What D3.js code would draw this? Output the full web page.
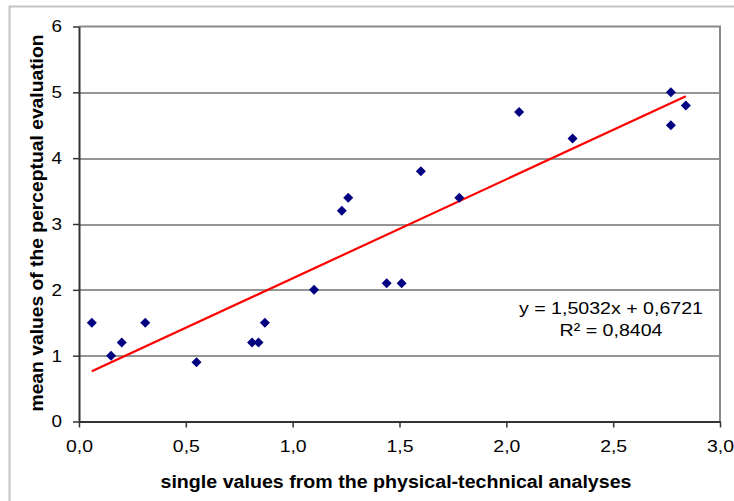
<!DOCTYPE html>
<html>
<head>
<meta charset="utf-8">
<script src="https://cdn.jsdelivr.net/npm/d3@7"></script>
<style>
  body { margin: 0; background: #fff; }
  svg text { font-family: "Liberation Sans", Arial, sans-serif; fill: #000; }
</style>
</head>
<body>
<div id="chart"></div>
<script>
// values
var xVals = [0.06, 0.15, 0.20, 0.31, 0.55, 0.81, 0.84, 0.87, 1.10, 1.23, 1.26, 1.44, 1.51, 1.60, 1.78, 2.06, 2.31, 2.77, 2.77, 2.84]
var yVals = [1.5, 1.0, 1.2, 1.5, 0.9, 1.2, 1.2, 1.5, 2.0, 3.2, 3.4, 2.1, 2.1, 3.8, 3.4, 4.7, 4.3, 5.0, 4.5, 4.8]
var xTicks = [0, 0.5, 1, 1.5, 2, 2.5, 3]
var yTicks = [0, 1, 2, 3, 4, 5, 6]
var trendCoef = [1.5032, 0.6721]   // slope, intercept
var eqLines = ["y = 1,5032x + 0,6721", "R² = 0,8404"]
var xTitle = "single values from the physical-technical analyses"
var yTitle = "mean values of the perceptual evaluation"

var figw = 734
var figh = 501
var margin = {top: 26.5, right: 14, bottom: 79.5, left: 79},
    width = figw - margin.left - margin.right,
    height = figh - margin.top - margin.bottom;

var root = d3.select("#chart")
  .append("svg")
    .attr("width", figw)
    .attr("height", figh)

// outer chart frame (runs off the picture right and bottom)
root.append("rect")
  .attr("x", 9.5).attr("y", 6.5)
  .attr("width", 800).attr("height", 600)
  .attr("fill", "none")
  .attr("stroke", "#c4c4c4")
  .attr("stroke-width", 2)

var svg = root.append("g")
  .attr("transform", "translate(" + margin.left + "," + margin.top + ")")

var x = d3.scaleLinear().domain([0, 3]).range([0, width])
var y = d3.scaleLinear().domain([0, 6]).range([height, 0])

var fmt = function(d) { return d3.format(".1f")(d).replace(".", ",") }

// gridlines
svg.append("g")
  .selectAll("line")
  .data(yTicks.filter(function(d) { return d > 0 && d < 6 }))
  .enter()
  .append("line")
    .attr("x1", 0).attr("x2", width)
    .attr("y1", function(d) { return Math.round(y(d)) + 0.5 })
    .attr("y2", function(d) { return Math.round(y(d)) + 0.5 })
    .attr("stroke", "#2a2a2a")
    .attr("stroke-width", 1)

// plot border top / right
svg.append("path")
  .attr("d", "M0,0H" + width + "V" + height)
  .attr("fill", "none")
  .attr("stroke", "#8a8a8a")
  .attr("stroke-width", 2)

// x axis
var gx = svg.append("g")
  .attr("transform", "translate(0," + height + ")")
  .call(d3.axisBottom(x).tickValues(xTicks).tickFormat(fmt).tickSize(6).tickPadding(12).tickSizeOuter(0))
gx.select(".domain").attr("stroke", "#333").attr("stroke-width", 2)
gx.selectAll(".tick line").attr("stroke", "#333").attr("stroke-width", 1.5)
gx.selectAll("text").attr("font-size", 17).attr("font-family", null)
  .attr("textLength", 27).attr("lengthAdjust", "spacingAndGlyphs")

// y axis
var gy = svg.append("g")
  .call(d3.axisLeft(y).tickValues(yTicks).tickFormat(d3.format("d")).tickSize(6).tickPadding(11).tickSizeOuter(0))
gy.select(".domain").attr("stroke", "#333").attr("stroke-width", 2)
gy.selectAll(".tick line").attr("stroke", "#333").attr("stroke-width", 1.5)
gy.selectAll("text").attr("font-size", 17).attr("font-family", null)
  .attr("textLength", 10.5).attr("lengthAdjust", "spacingAndGlyphs")

// trend line
var xr = d3.extent(xVals)
svg.append("line")
  .attr("x1", x(xr[0])).attr("y1", y(trendCoef[0] * xr[0] + trendCoef[1]))
  .attr("x2", x(xr[1])).attr("y2", y(trendCoef[0] * xr[1] + trendCoef[1]))
  .attr("stroke", "#ff0000")
  .attr("stroke-width", 2.2)

// dots
var diamond = d3.symbol().type(d3.symbolSquare).size(50)
svg.append("g")
  .selectAll("path")
  .data(xVals)
  .enter()
  .append("path")
    .attr("d", diamond)
    .attr("transform", function(d, i) { return "translate(" + x(d) + "," + y(yVals[i]) + ") rotate(45)" })
    .attr("fill", "#000080")

// equation
root.append("g")
  .selectAll("text")
  .data(eqLines)
  .enter()
  .append("text")
    .attr("x", 611)
    .attr("y", function(d, i) { return 314 + i * 22 })
    .attr("text-anchor", "middle")
    .attr("font-size", 17)
    .attr("textLength", function(d, i) { return i == 0 ? 184 : 103 })
    .attr("lengthAdjust", "spacingAndGlyphs")
    .text(function(d) { return d })

// axis titles
root.append("text")
  .attr("x", 396)
  .attr("y", 488)
  .attr("text-anchor", "middle")
  .attr("font-size", 18)
  .attr("font-weight", "bold")
  .attr("textLength", 471)
  .attr("lengthAdjust", "spacingAndGlyphs")
  .text(xTitle)

root.append("text")
  .attr("transform", "translate(43,223) rotate(-90)")
  .attr("text-anchor", "middle")
  .attr("font-size", 18)
  .attr("font-weight", "bold")
  .attr("textLength", 377)
  .attr("lengthAdjust", "spacingAndGlyphs")
  .text(yTitle)
</script>
</body>
</html>
